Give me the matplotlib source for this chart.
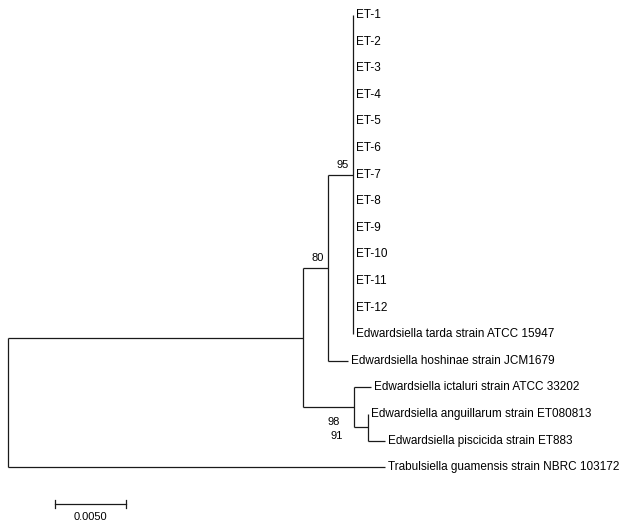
import matplotlib
matplotlib.use("Agg")
import matplotlib.pyplot as plt
from matplotlib import font_manager

# ---- data ----
# nodes listed in drawing order; parent index and branch length (subst./site)
node_names = ["root", "A", "B", "ET",
              "ET-1", "ET-2", "ET-3", "ET-4", "ET-5", "ET-6", "ET-7", "ET-8",
              "ET-9", "ET-10", "ET-11", "ET-12",
              "Edwardsiella tarda strain ATCC 15947",
              "Edwardsiella hoshinae strain JCM1679",
              "C",
              "Edwardsiella ictaluri strain ATCC 33202",
              "D",
              "Edwardsiella anguillarum strain ET080813",
              "Edwardsiella piscicida strain ET883",
              "Trabulsiella guamensis strain NBRC 103172"]
node_parent = [-1, 0, 1, 2,
               3, 3, 3, 3, 3, 3, 3, 3, 3, 3, 3, 3,
               3, 2, 1, 18, 18, 20, 20, 0]
branch_len = [0.0, 0.02077, 0.00176, 0.00176,
              0, 0, 0, 0, 0, 0, 0, 0, 0, 0, 0, 0,
              0, 0.00141, 0.00359, 0.00120, 0.00099, 0.0, 0.00120, 0.02655]
bootstrap_nodes = ["ET", "B", "C", "D"]
bootstrap_vals = [95, 80, 98, 91]
scale_len = 0.005
scale_label = "0.0050"

# ---- font ----
plt.rcParams["font.family"] = ["Liberation Sans", "DejaVu Sans"]
tip_fp = font_manager.FontProperties(family=["Liberation Sans", "DejaVu Sans"], size=8.5)
num_fp = font_manager.FontProperties(family=["Liberation Sans", "DejaVu Sans"], size=8)

W, H = 627, 526
fig = plt.figure(figsize=(W / 100, H / 100), dpi=100)
ax = fig.add_axes([0, 0, 1, 1])
ax.set_axis_off()

pxu = 14200.0     # px per unit
pxt = 26.6        # px per tip
x0, y0 = 8, 15
ax.set_xlim(-x0 / pxu, (W - x0) / pxu)
ax.set_ylim((H - y0) / pxt, -y0 / pxt)

n = len(node_names)
children = {i: [] for i in range(n)}
for i, p in enumerate(node_parent):
    if p >= 0:
        children[p].append(i)

xpos = [0.0] * n
for i in range(n):
    p = node_parent[i]
    if p >= 0:
        xpos[i] = xpos[p] + branch_len[i]

ypos = [0.0] * n
tip_counter = [0]


def assign(i):
    if not children[i]:
        ypos[i] = tip_counter[0]
        tip_counter[0] += 1
    else:
        for c in children[i]:
            assign(c)
        ypos[i] = (ypos[children[i][0]] + ypos[children[i][-1]]) / 2


assign(0)

lc = "#1a1a1a"
lw = 0.9
for i in range(n):
    p = node_parent[i]
    if p >= 0:
        ax.plot([xpos[p], xpos[i]], [ypos[i], ypos[i]], color=lc, lw=lw,
                solid_capstyle="butt")
    if children[i]:
        ys = [ypos[c] for c in children[i]]
        ax.plot([xpos[i], xpos[i]], [min(ys), max(ys)], color=lc, lw=lw,
                solid_capstyle="butt")
    else:
        ax.text(xpos[i] + 3 / pxu, ypos[i], node_names[i], fontproperties=tip_fp,
                va="center", ha="left", color="black")

# bootstrap labels (pixel offsets from the node)
offsets = {"ET": (-4, -10), "B": (-4, -10), "C": (-14, 15), "D": (-25, 9)}
for name, val in zip(bootstrap_nodes, bootstrap_vals):
    i = node_names.index(name)
    dx, dy = offsets[name]
    ax.text(xpos[i] + dx / pxu, ypos[i] + dy / pxt, str(val),
            fontproperties=num_fp, ha="right", va="center", color="black")

# scale bar
sx = 47 / pxu
sy = (504 - y0) / pxt
ax.plot([sx, sx + scale_len], [sy, sy], color=lc, lw=lw)
for xx in (sx, sx + scale_len):
    ax.plot([xx, xx], [sy - 4 / pxt, sy + 4 / pxt], color=lc, lw=lw)
ax.text(sx + scale_len / 2, sy + 13 / pxt, scale_label, fontproperties=num_fp,
        ha="center", va="center", color="black")

fig.savefig("out.png", dpi=100)
